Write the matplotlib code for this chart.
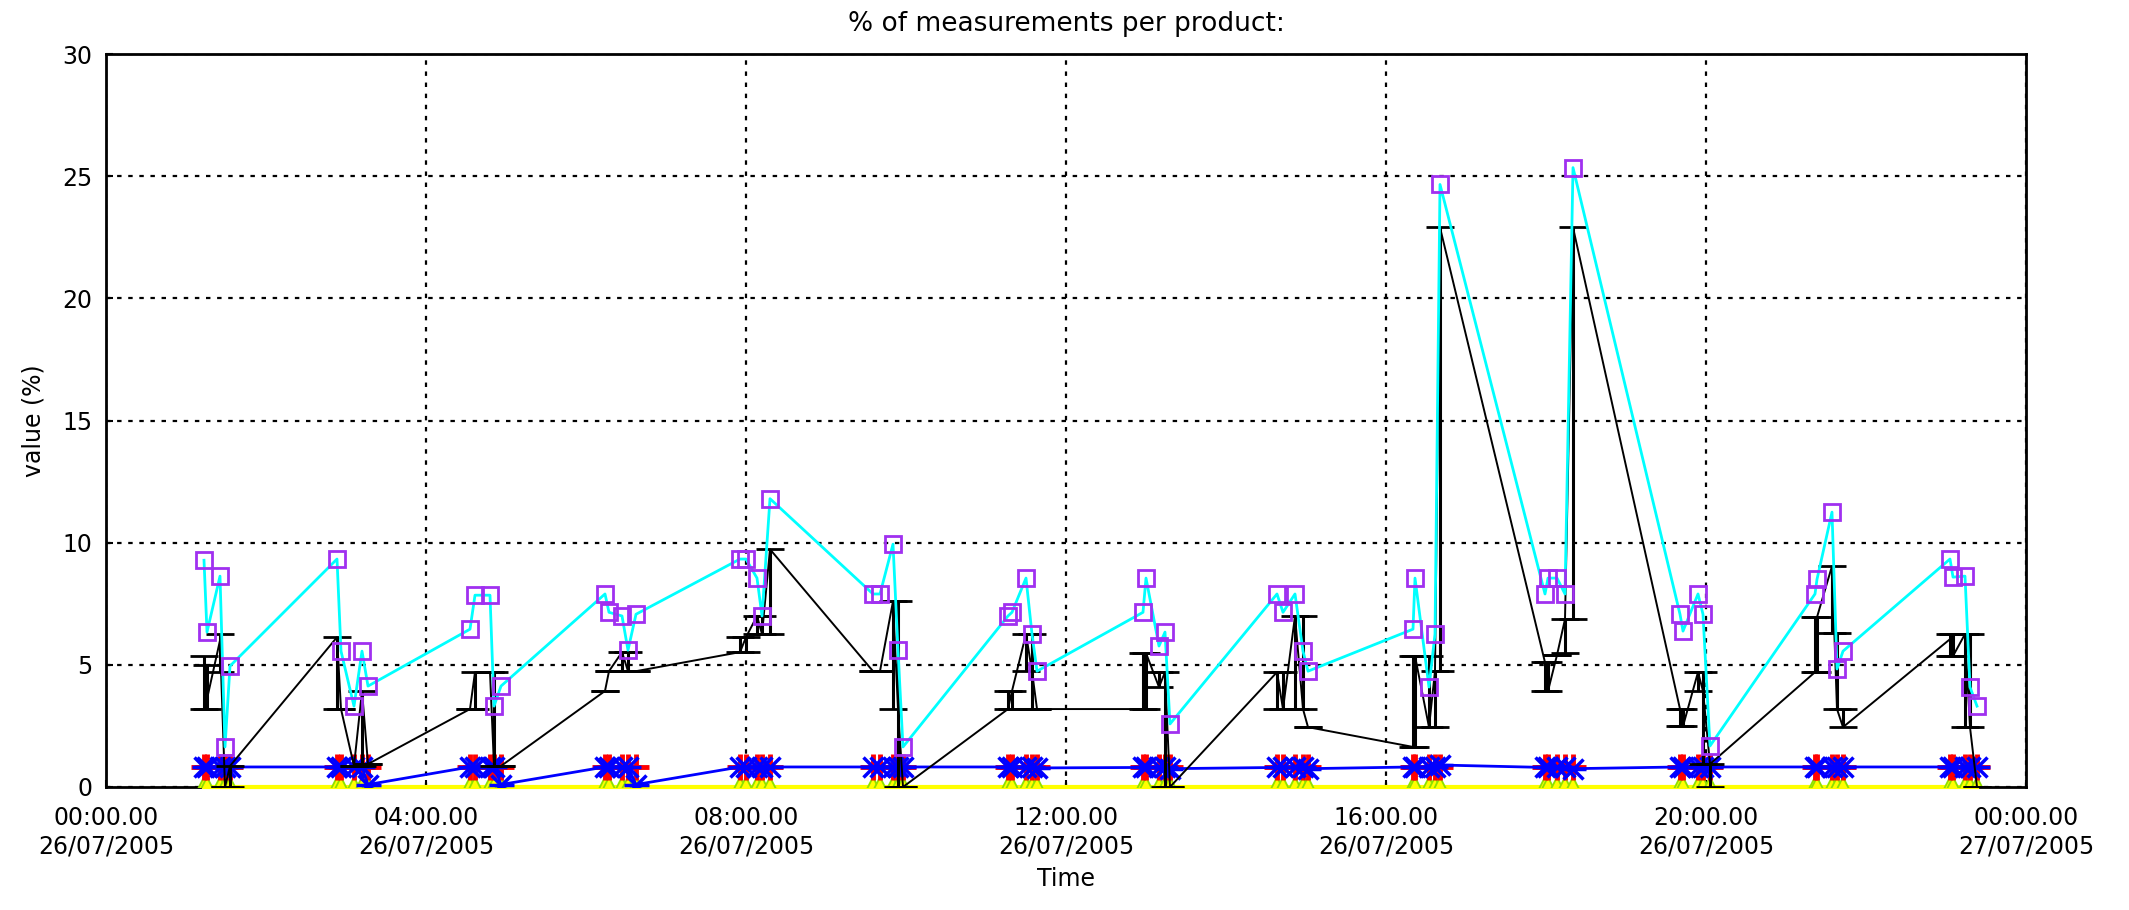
import numpy as np
import matplotlib
matplotlib.use("Agg")
import matplotlib.pyplot as plt

# ---- data (time in hours since 00:00 26/07/2005) ----
times = [
    1.225, 1.2625, 1.425, 1.4875, 1.55,
    2.8875, 2.9375, 3.1, 3.2, 3.275,
    4.55, 4.6125, 4.8, 4.85, 4.9375,
    6.2375, 6.2875, 6.45, 6.525, 6.625,
    7.925, 8.0, 8.1375, 8.2, 8.3,
    9.5875, 9.675, 9.8375, 9.9, 9.9625,
    11.275, 11.325, 11.5, 11.575, 11.6375,
    12.9625, 13.0, 13.1625, 13.2375, 13.3,
    14.6375, 14.7125, 14.8625, 14.9625, 15.025,
    16.3375, 16.3625, 16.5375, 16.6125, 16.675,
    17.9875, 18.025, 18.1375, 18.2375, 18.3375,
    19.675, 19.7125, 19.9, 19.9625, 20.05,
    21.3625, 21.3875, 21.575, 21.6375, 21.7125,
    23.05, 23.0875, 23.2375, 23.3, 23.3875,
]

cyan_values = [
    9.28, 6.34, 8.63, 1.64, 4.95,
    9.33, 5.56, 3.31, 5.56, 4.13,
    6.46, 7.85, 7.85, 3.31, 4.13,
    7.9, 7.15, 7.0, 5.6, 7.07,
    9.33, 9.33, 8.55, 7.0, 11.8,
    7.9, 7.9, 9.94, 5.6, 1.64,
    7.0, 7.15, 8.55, 6.26, 4.74,
    7.15, 8.55, 5.77, 6.34, 2.58,
    7.9, 7.15, 7.9, 5.56, 4.74,
    6.46, 8.55, 4.09, 6.26, 24.66,
    7.9, 8.55, 8.55, 7.9, 25.35,
    7.07, 6.38, 7.9, 7.07, 1.68,
    7.9, 8.5, 11.25, 4.83, 5.56,
    9.33, 8.59, 8.63, 4.09, 3.31,
]

black_values = [
    5.0, 3.6, 6.0, 0.0, 0.86,
    6.13, 3.19, 0.86, 3.93, 0.94,
    3.19, 4.7, 4.7, 0.86, 0.86,
    3.93, 4.74, 5.52, 4.74, 4.74,
    5.52, 6.13, 7.0, 6.26, 9.73,
    4.74, 4.74, 7.6, 3.19, 0.0,
    3.19, 3.93, 6.26, 4.74, 3.19,
    3.19, 5.48, 4.09, 4.7, 0.0,
    4.7, 3.19, 7.0, 3.19, 2.45,
    1.64, 5.36, 2.45, 4.74, 22.9,
    5.1, 3.93, 5.4, 6.87, 22.9,
    3.19, 2.49, 4.7, 3.93, 0.94,
    4.7, 6.95, 9.04, 3.19, 2.45,
    6.05, 5.36, 6.26, 2.45, 0.0,
]
black_low = [
    3.19, 3.19, 4.7, 0.0, 0.0,
    3.19, 3.19, 0.86, 0.86, 0.94,
    3.19, 3.19, 4.7, 0.86, 0.86,
    3.93, 4.74, 4.74, 4.74, 4.74,
    5.52, 5.52, 6.26, 6.26, 6.26,
    4.74, 4.74, 3.19, 0.0, 0.0,
    3.19, 3.19, 4.74, 3.19, 3.19,
    3.19, 3.19, 4.09, 0.0, 0.0,
    3.19, 3.19, 3.19, 3.19, 2.45,
    1.64, 1.64, 2.45, 2.45, 4.74,
    3.93, 3.93, 5.4, 5.5, 6.87,
    2.49, 2.49, 3.93, 0.94, 0.0,
    4.7, 4.7, 6.3, 3.19, 2.45,
    5.36, 5.36, 2.45, 2.45, 0.0,
]
black_high = [
    5.36, 5.0, 6.26, 0.0, 0.86,
    6.13, 3.19, 0.86, 3.93, 0.94,
    3.19, 4.7, 4.7, 4.7, 0.86,
    3.93, 4.74, 5.52, 5.52, 4.74,
    6.13, 6.13, 7.0, 7.0, 9.73,
    4.74, 4.74, 7.6, 7.6, 0.0,
    3.93, 3.93, 6.26, 6.26, 3.19,
    5.48, 5.48, 4.7, 4.7, 0.0,
    4.7, 4.7, 7.0, 7.0, 2.45,
    5.36, 5.36, 5.36, 4.74, 22.9,
    5.1, 5.1, 5.4, 6.87, 22.9,
    3.19, 3.19, 4.7, 4.7, 0.94,
    6.95, 6.95, 9.04, 6.3, 3.19,
    6.26, 6.26, 6.26, 6.26, 0.0,
]

blue_values = [
    0.82, 0.82, 0.82, 0.82, 0.82,
    0.82, 0.82, 0.82, 0.82, 0.1,
    0.82, 0.82, 0.82, 0.82, 0.1,
    0.82, 0.82, 0.82, 0.82, 0.1,
    0.82, 0.82, 0.82, 0.82, 0.82,
    0.82, 0.82, 0.82, 0.82, 0.82,
    0.82, 0.82, 0.82, 0.82, 0.78,
    0.8, 0.8, 0.8, 0.8, 0.75,
    0.8, 0.8, 0.8, 0.8, 0.75,
    0.82, 0.82, 0.82, 0.82, 0.9,
    0.8, 0.8, 0.8, 0.8, 0.75,
    0.82, 0.82, 0.82, 0.82, 0.82,
    0.82, 0.82, 0.82, 0.82, 0.82,
    0.82, 0.82, 0.82, 0.82, 0.82,
]
red_values = [0.82] * len(times)
yellow_values = [0.0] * len(times)

x_ticks = [0, 4, 8, 12, 16, 20, 24]
x_tick_labels = [
    "00:00.00\n26/07/2005", "04:00.00\n26/07/2005", "08:00.00\n26/07/2005",
    "12:00.00\n26/07/2005", "16:00.00\n26/07/2005", "20:00.00\n26/07/2005",
    "00:00.00\n27/07/2005",
]
y_ticks = [0, 5, 10, 15, 20, 25, 30]

# ---- figure ----
W, H = 2129, 910
fig = plt.figure(figsize=(W / 100, H / 100), dpi=100)
fig.patch.set_facecolor("white")
ax = fig.add_axes([106 / W, 1 - 787 / H, (2026 - 106) / W, (787 - 54) / H])

t = np.array(times)
bv = np.array(black_values)
yerr = np.vstack([bv - np.array(black_low), np.array(black_high) - bv])

# yellow baseline series
ax.plot(t, yellow_values, color="#FFFF00", lw=3, zorder=3, clip_on=False)
ax.plot(t, yellow_values, ls="none", marker="^", ms=14, mfc="#FFFF00",
        mec="#8CE000", mew=1.3, zorder=3.1)
# red & blue series
ax.plot(t, red_values, ls="none", marker="+", ms=19, mew=3.5, color="#FF0000", zorder=3.2)
ax.plot(t, blue_values, color="#0000FF", lw=2, zorder=3.3)
ax.plot(t, blue_values, ls="none", marker="x", ms=15, mew=2.5, color="#0000FF", zorder=3.4)
ax.plot(t, blue_values, ls="none", marker="_", ms=18, mew=2.5, color="#0000FF", zorder=3.4)

# black series with error bars
ax.errorbar(t, bv, yerr=yerr, color="black", lw=1.4, elinewidth=2.2,
            capsize=10, capthick=2, zorder=4)

# cyan series with purple squares
ax.plot(t, cyan_values, color="#00FFFF", lw=2, zorder=5)
ax.plot(t, cyan_values, ls="none", marker="s", ms=12, mfc="none",
        mec="#A030F0", mew=2, zorder=6)

ax.set_xlim(0, 24)
ax.set_ylim(0, 30)
ax.set_xticks(x_ticks)
ax.set_xticklabels(x_tick_labels)
ax.set_yticks(y_ticks)
ax.grid(True, color="black", ls=(0, (2, 3)), lw=1.6)
ax.set_axisbelow(True)
for s in ax.spines.values():
    s.set_linewidth(2)
    s.set_color("black")
ax.tick_params(axis="both", direction="in", length=5, width=1.5,
               labelsize=17, pad=10)
ax.tick_params(axis="x", pad=14)

ax.set_xlabel("Time", fontsize=17, labelpad=6)
ax.set_ylabel("value (%)", fontsize=17, labelpad=12)
fig.text(1066 / W, 1 - 24 / H, "% of measurements per product:",
         ha="center", va="center", fontsize=19)

fig.savefig("out.png", dpi=100, facecolor="white")
